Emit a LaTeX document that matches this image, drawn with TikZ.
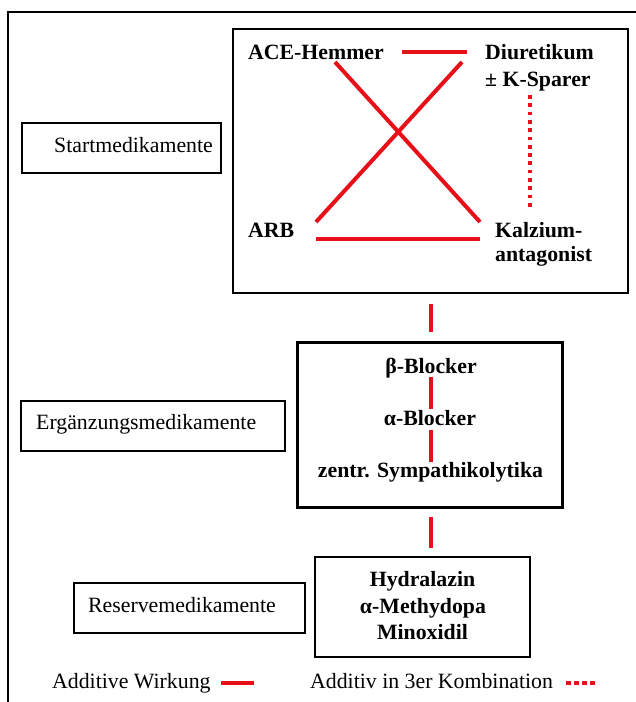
\documentclass[tikz,border=0pt]{standalone}
\usepackage{fontspec}
\setmainfont{Liberation Serif}
\definecolor{lred}{RGB}{232,16,24}
\begin{document}
\begin{tikzpicture}[x=1pt,y=-1pt,
  txt/.style={inner sep=0pt, font=\fontsize{21.8}{24}\selectfont},
  btxt/.style={inner sep=0pt, font=\fontsize{21.8}{24}\selectfont\bfseries},
  bigbox/.style={draw, line width=2.8pt, inner sep=0pt},
  lblbox/.style={draw, line width=1.4pt, inner sep=0pt},
  addline/.style={draw=lred, line width=4pt},
  dotline/.style={draw=lred, line width=3.7pt, dash pattern=on 3.7pt off 4.6pt},
]
\useasboundingbox (0,0) rectangle (636,702);
% outer frame (partly visible)
\coordinate (fbl) at (8,702);
\coordinate (ftl) at (8,12);
\coordinate (ftr) at (636,12);
\draw[line width=1.2pt] (fbl) -- (ftl) -- (ftr);

% main boxes
\node[bigbox, minimum width=395, minimum height=264] (start) at (430.5,161) {};
\node[bigbox, minimum width=265, minimum height=165] (erg) at (430,425) {};
\node[bigbox, minimum width=215, minimum height=100] (res) at (422.5,607) {};

% label boxes
\node[lblbox, minimum width=199, minimum height=50] (startlbl) at (121.5,148) {};
\node[txt, anchor=base west] (startlbltxt) at (54,152) {Startmedikamente};
\node[lblbox, minimum width=264, minimum height=50] (erglbl) at (153,426) {};
\node[txt, anchor=base west] (erglbltxt) at (36,429) {Ergänzungsmedikamente};
\node[lblbox, minimum width=231, minimum height=50] (reslbl) at (189.5,608) {};
\node[txt, anchor=base west] (reslbltxt) at (88,612) {Reservemedikamente};

% start box texts
\node[btxt, anchor=base west] (ace) at (248,59) {ACE-Hemmer};
\node[btxt, anchor=base west] (diur) at (485,59) {Diuretikum};
\node[btxt, anchor=base west] (kspar) at (485,86.5) {± K-Sparer};
\node[btxt, anchor=base west] (arb) at (248,237) {ARB};
\node[btxt, anchor=base west] (kalz) at (495,237) {Kalzium-};
\node[btxt, anchor=base west] (antag) at (495,261) {antagonist};

% connectors in start box
\coordinate (aceR) at (402,52);
\coordinate (diurL) at (467,52);
\coordinate (aceB) at (335,62);
\coordinate (kalzT) at (480,222);
\coordinate (arbT) at (316,222);
\coordinate (diurB) at (462,62);
\coordinate (arbR) at (316,239);
\coordinate (kalzL) at (480,239);
\coordinate (ksparB) at (530,95);
\coordinate (kalzTop) at (530,207);
\draw[addline] (aceR) -- (diurL);
\draw[addline] (aceB) -- (kalzT);
\draw[addline] (arbT) -- (diurB);
\draw[addline] (arbR) -- (kalzL);
\draw[dotline] (ksparB) -- (kalzTop);

% erg box texts
\node[btxt, anchor=base] (beta) at (431,373) {β-Blocker};
\node[btxt, anchor=base] (alpha) at (430,425) {α-Blocker};
\node[btxt, anchor=base] (zentr) at (430.5,477) {zentr. Sympathikolytika};
\coordinate (betaB) at (431,377);
\coordinate (alphaT) at (431,409);
\coordinate (alphaB) at (431,430);
\coordinate (zentrT) at (431,462);
\draw[addline] (betaB) -- (alphaT);
\draw[addline] (alphaB) -- (zentrT);

% reserve box texts
\node[btxt, anchor=base] (hydr) at (422.5,586) {Hydralazin};
\node[btxt, anchor=base] (methy) at (423,613) {α-Methydopa};
\node[btxt, anchor=base] (minox) at (422.5,639) {Minoxidil};

% connectors between boxes
\draw[addline, shorten <=10pt, shorten >=9pt] (start.south -| 431,0) -- (erg.north -| 431,0);
\draw[addline, shorten <=8pt, shorten >=8pt] (erg.south -| 431,0) -- (res.north -| 431,0);

% legend
\node[txt, anchor=base west] (leg1) at (52,688) {Additive Wirkung};
\coordinate (leg1a) at (221,683);
\coordinate (leg1b) at (254,683);
\draw[addline] (leg1a) -- (leg1b);
\node[txt, anchor=base west] (leg2) at (310,688) {Additiv in 3er Kombination};
\coordinate (leg2a) at (566,683);
\coordinate (leg2b) at (596,683);
\draw[draw=lred, line width=3.2pt, dash pattern=on 5pt off 3pt] (leg2a) -- (leg2b);
\end{tikzpicture}
\end{document}
